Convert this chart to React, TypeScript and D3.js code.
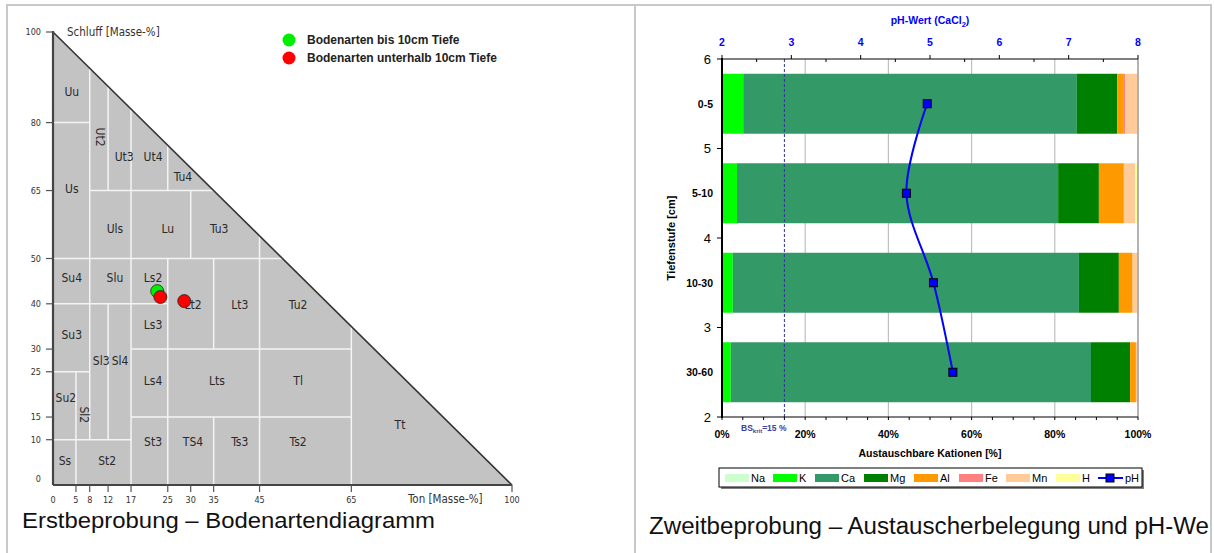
import React from "react";
import * as d3 from "d3";

// ---------- Left: soil texture triangle ----------
const tonTicks = [5, 8, 12, 17, 25, 30, 35, 45, 65, 100];
const schluffTicks = [10, 15, 25, 30, 40, 50, 65, 80, 100];
// boundary segments [x1, y1, x2, y2] in (Ton, Schluff) %
const hLines = [
  [0, 10, 17, 10], [17, 15, 65, 15], [0, 25, 8, 25], [17, 30, 65, 30],
  [0, 40, 25, 40], [0, 50, 50, 50], [8, 65, 35, 65], [0, 80, 8, 80],
];
const vLines = [
  [5, 0, 5, 25], [8, 10, 8, 92], [12, 10, 12, 40], [12, 65, 12, 88],
  [17, 0, 17, 83], [25, 0, 25, 50], [25, 65, 25, 75], [30, 50, 30, 65],
  [35, 0, 35, 15], [35, 30, 35, 50], [45, 0, 45, 55], [65, 0, 65, 35],
];
const classNames = ["Uu","Ut2","Ut3","Ut4","Tu4","Us","Uls","Lu","Tu3","Su4","Slu","Ls2","Lt2","Lt3","Tu2","Su3","Ls3","Sl3","Sl4","Ls4","Lts","Tl","Su2","Sl2","St3","TS4","Ts3","Ts2","Tt","Ss","St2"];
const classTon = [4.1,10.2,15.5,21.8,28.3,4.1,13.5,25,36.2,4.1,13.5,21.8,30.5,40.7,53.4,4.1,21.8,10.5,14.6,21.8,35.7,53.4,2.8,6.8,21.8,30.5,40.7,53.4,75.6,2.6,11.8];
const classSchluff = [86.8,76.8,72.4,72.4,68,65.3,56.5,56.5,56.5,45.7,45.7,45.7,39.7,39.7,39.7,33.1,35.3,27.4,27.4,23,23,23,19.2,15.5,9.5,9.5,9.5,9.5,13.2,5.3,5.3];
const classRotated = ["Ut2", "Sl2"];
const samplesTon = [22.7, 23.4, 28.6];
const samplesSchluff = [42.8, 41.5, 40.6];
const samplesGroup = ["bis", "unter", "unter"];
const triLegend = ["Bodenarten bis 10cm Tiefe", "Bodenarten unterhalb 10cm Tiefe"];
const triColors: Record<string, string> = { bis: "#00ee00", unter: "#ff0000" };

// ---------- Right: exchangeable cations ----------
const depthLabels = ["0-5", "5-10", "10-30", "30-60"];
const depthPos = [5.5, 4.5, 3.5, 2.5];
const cations = ["Na", "K", "Ca", "Mg", "Al", "Fe", "Mn", "H"];
const cationColors = ["#ccffcc", "#00ff00", "#339966", "#008000", "#ff9900", "#ff8080", "#ffcc99", "#ffff99"];
const valNa = [0.2, 0.2, 0.2, 0.2];
const valK = [4.9, 3.4, 2.4, 1.9];
const valCa = [80.2, 77.2, 83.2, 86.6];
const valMg = [9.7, 9.8, 9.6, 9.4];
const valAl = [1.6, 6.0, 3.3, 1.4];
const valFe = [0.3, 0.0, 0.0, 0.0];
const valMn = [2.9, 2.7, 1.1, 0.4];
const valH = [0.2, 0.7, 0.2, 0.1];
const phValues = [4.96, 4.66, 5.05, 5.33];
const pctTicks = [0, 20, 40, 60, 80, 100];
const phTicks = [2, 3, 4, 5, 6, 7, 8];
const depthTicks = [2, 3, 4, 5, 6];
const bsKrit = 15;

const SANS = "'Liberation Sans', Arial, sans-serif";
const NARROW = "'Liberation Sans Narrow', 'DejaVu Sans Condensed', sans-serif";

export default function App() {
  // triangle scales
  const tx = d3.scaleLinear().domain([0, 100]).range([53, 512]);
  const ty = d3.scaleLinear().domain([0, 100]).range([485, 32]);

  // right chart scales
  const px = d3.scaleLinear().domain([0, 100]).range([722, 1138]);
  const phx = d3.scaleLinear().domain([2, 8]).range([722, 1138]);
  const dy = d3.scaleLinear().domain([2, 6]).range([417, 59]);
  const barH = dy(0) - dy(0.67);

  const series = [valNa, valK, valCa, valMg, valAl, valFe, valMn, valH];
  const table = depthLabels.map((lab, i) => {
    const row: any = { lab };
    cations.forEach((c, k) => (row[c] = series[k][i]));
    return row;
  });
  const stacked = d3.stack().keys(cations)(table);

  const phLine = d3
    .line<number>()
    .x((v) => phx(v))
    .y((_, i) => dy(depthPos[i]))
    .curve(d3.curveCatmullRom.alpha(0.5));

  const minorPct = d3.range(0, 101, 5);
  const minorPh = d3.range(2, 8.01, 0.5);

  const legendX = [725, 773, 815, 864, 914, 959, 1006, 1056];

  return (
    <svg
      width={1214}
      height={553}
      style={{ position: "absolute", left: 0, top: 0, background: "#fff" }}
    >
      <rect x={0} y={0} width={1214} height={553} fill="#fff" />
      {/* frame */}
      <g stroke="#c8c8c8" strokeWidth={2}>
        <line x1={6} y1={5} x2={1212} y2={5} />
        <line x1={7} y1={5} x2={7} y2={553} />
        <line x1={635} y1={5} x2={635} y2={553} />
        <line x1={1211} y1={5} x2={1211} y2={553} />
      </g>

      {/* ---------------- triangle ---------------- */}
      <path
        d={`M${tx(0)},${ty(0)}L${tx(0)},${ty(100)}L${tx(100)},${ty(0)}Z`}
        fill="#c3c3c3"
      />
      <g stroke="#f4f4f4" strokeWidth={1.5}>
        {hLines.concat(vLines).map((s, i) => (
          <line key={i} x1={tx(s[0])} y1={ty(s[1])} x2={tx(s[2])} y2={ty(s[3])} />
        ))}
      </g>
      <line x1={tx(0)} y1={ty(100)} x2={tx(100)} y2={ty(0)} stroke="#333" strokeWidth={1.6} />
      <line x1={tx(0)} y1={ty(100) - 1} x2={tx(0)} y2={ty(0)} stroke="#444" strokeWidth={2.2} />
      <line x1={tx(0)} y1={ty(0)} x2={tx(100)} y2={ty(0)} stroke="#444" strokeWidth={2.2} />
      {schluffTicks.map((t) => (
        <g key={"s" + t}>
          <line x1={tx(0) - 7} x2={tx(0)} y1={ty(t)} y2={ty(t)} stroke="#555" strokeWidth={1.2} />
          <text x={tx(0) - 12} y={ty(t) + 3} fontSize={9} textAnchor="end" fill="#333" fontFamily={NARROW}>{t}</text>
        </g>
      ))}
      <text x={tx(0) - 12} y={ty(0) - 3} fontSize={9} textAnchor="end" fill="#333" fontFamily={NARROW}>0</text>
      {tonTicks.map((t) => (
        <g key={"t" + t}>
          <line x1={tx(t)} x2={tx(t)} y1={ty(0)} y2={ty(0) + 7} stroke="#555" strokeWidth={1.2} />
          <text x={tx(t)} y={503} fontSize={9} textAnchor="middle" fill="#333" fontFamily={NARROW}>{t}</text>
        </g>
      ))}
      <text x={tx(0)} y={503} fontSize={9} textAnchor="middle" fill="#333" fontFamily={NARROW}>0</text>
      <text x={67} y={36} fontSize={11.5} fill="#333" fontFamily={NARROW}>Schluff [Masse-%]</text>
      <text x={408} y={503} fontSize={11.5} fill="#333" fontFamily={NARROW}>Ton [Masse-%]</text>

      {classNames.map((n, i) => {
        const x = tx(classTon[i]);
        const y = ty(classSchluff[i]);
        const rot = classRotated.includes(n);
        return (
          <text
            key={n}
            x={x}
            y={y}
            fontSize={12}
            fill="#2a2a2a"
            textAnchor="middle"
            dominantBaseline="central"
            fontFamily={NARROW}
            transform={rot ? `rotate(90 ${x} ${y})` : undefined}
          >
            {n}
          </text>
        );
      })}

      {samplesTon.map((t, i) => (
        <circle key={i} cx={tx(t)} cy={ty(samplesSchluff[i])} r={6.5} fill={triColors[samplesGroup[i]]} stroke="#222" strokeWidth={0.8} />
      ))}
      {triLegend.map((l, i) => (
        <g key={l}>
          <circle cx={289} cy={40 + i * 18} r={6.5} fill={i === 0 ? triColors.bis : triColors.unter} />
          <text x={307} y={44 + i * 18} fontSize={12} fontWeight="bold" fill="#222" fontFamily={SANS}>{l}</text>
        </g>
      ))}
      <text x={22} y={528} fontSize={22} fill="#111" fontFamily={SANS} textLength={413} lengthAdjust="spacingAndGlyphs">Erstbeprobung – Bodenartendiagramm</text>

      {/* ---------------- bar chart ---------------- */}
      {pctTicks.slice(1, -1).map((t) => (
        <line key={"g" + t} x1={px(t)} x2={px(t)} y1={dy(6)} y2={dy(2)} stroke="#c0c0c0" strokeWidth={1.2} />
      ))}
      {stacked.map((s, k) => (
        <g key={cations[k]} fill={cationColors[k]}>
          {s.map((d, i) => (
            <rect
              key={i}
              x={px(d[0])}
              width={Math.max(0, px(d[1]) - px(d[0]))}
              y={dy(depthPos[i]) - barH / 2}
              height={barH}
            />
          ))}
        </g>
      ))}
      <line x1={px(bsKrit)} x2={px(bsKrit)} y1={dy(6)} y2={dy(2)} stroke="#333399" strokeWidth={1} strokeDasharray="3,2" />
      <line x1={px(100)} x2={px(100)} y1={dy(6)} y2={dy(2)} stroke="#808080" strokeWidth={1.2} />

      <path d={phLine(phValues) || ""} fill="none" stroke="#0000ff" strokeWidth={2} />
      {phValues.map((v, i) => (
        <rect key={i} x={phx(v) - 4} y={dy(depthPos[i]) - 4} width={8} height={8} fill="#0000ff" stroke="#000" strokeWidth={1} />
      ))}

      {/* axes */}
      <line x1={px(0)} x2={px(0)} y1={dy(6) - 1} y2={dy(2) + 1} stroke="#000" strokeWidth={2} />
      <line x1={px(0)} x2={px(100)} y1={dy(2)} y2={dy(2)} stroke="#000" strokeWidth={1.2} />
      <line x1={px(0)} x2={px(100)} y1={dy(6)} y2={dy(6)} stroke="#000" strokeWidth={1.2} />
      {depthTicks.map((t) => (
        <g key={"d" + t}>
          <line x1={px(0) - 5} x2={px(0)} y1={dy(t)} y2={dy(t)} stroke="#000" strokeWidth={1} />
          <text x={711} y={dy(t) + 4.5} fontSize={13} textAnchor="end" fill="#000" fontFamily={SANS}>{t}</text>
        </g>
      ))}
      {depthLabels.map((l, i) => (
        <text key={l} x={713} y={dy(depthPos[i]) + 4} fontSize={10.5} fontWeight="bold" textAnchor="end" fill="#000" fontFamily={SANS}>{l}</text>
      ))}
      {minorPct.map((t) => (
        <line key={"mp" + t} x1={px(t)} x2={px(t)} y1={dy(2)} y2={dy(2) + 3} stroke="#000" strokeWidth={1} />
      ))}
      {pctTicks.map((t) => (
        <text key={"p" + t} x={px(t)} y={438} fontSize={10.5} fontWeight="bold" textAnchor="middle" fill="#000" fontFamily={SANS}>{t}%</text>
      ))}
      {minorPh.map((t) => (
        <line key={"mh" + t} x1={phx(t)} x2={phx(t)} y1={Number.isInteger(t) ? dy(6) - 4 : dy(6)} y2={Number.isInteger(t) ? dy(6) : dy(6) + 3} stroke="#000" strokeWidth={1} />
      ))}
      {phTicks.map((t) => (
        <text key={"h" + t} x={phx(t)} y={46} fontSize={10.5} fontWeight="bold" textAnchor="middle" fill="#0000ff" fontFamily={SANS}>{t}</text>
      ))}
      <text x={930} y={24} fontSize={10.5} fontWeight="bold" textAnchor="middle" fill="#0000ff" fontFamily={SANS}>
        pH-Wert (CaCl<tspan fontSize={7.5} dy={3}>2</tspan><tspan dy={-3}>)</tspan>
      </text>
      <text x={930} y={457} fontSize={10.5} fontWeight="bold" textAnchor="middle" fill="#000" fontFamily={SANS}>Austauschbare Kationen [%]</text>
      <text transform="translate(675,238) rotate(-90)" fontSize={11} fontWeight="bold" textAnchor="middle" fill="#000" fontFamily={SANS}>Tiefenstufe [cm]</text>
      <text x={741} y={431} fontSize={8.5} fontWeight="bold" fill="#4040a0" fontFamily={SANS}>
        BS<tspan fontSize={6} dy={2}>krit</tspan><tspan dy={-2}>=15 %</tspan>
      </text>

      {/* legend */}
      <rect x={721} y={470} width={423} height={19} fill="#808080" />
      <rect x={719} y={468} width={423} height={19} fill="#fff" stroke="#000" strokeWidth={1} />
      {cations.map((c, k) => (
        <g key={"l" + c}>
          <rect x={legendX[k]} y={474} width={24} height={8} fill={cationColors[k]} />
          <text x={legendX[k] + 26} y={482} fontSize={11} fill="#000" fontFamily={SANS}>{c}</text>
        </g>
      ))}
      <line x1={1098} x2={1123} y1={478} y2={478} stroke="#0000ff" strokeWidth={2} />
      <rect x={1106} y={474} width={8} height={8} fill="#0000ff" stroke="#000" strokeWidth={1} />
      <text x={1125} y={482} fontSize={11} fill="#000" fontFamily={SANS}>pH</text>

      <text x={649} y={534} fontSize={23.5} fill="#111" fontFamily={SANS} textLength={560} lengthAdjust="spacingAndGlyphs">Zweitbeprobung – Austauscherbelegung und pH-We</text>
    </svg>
  );
}
